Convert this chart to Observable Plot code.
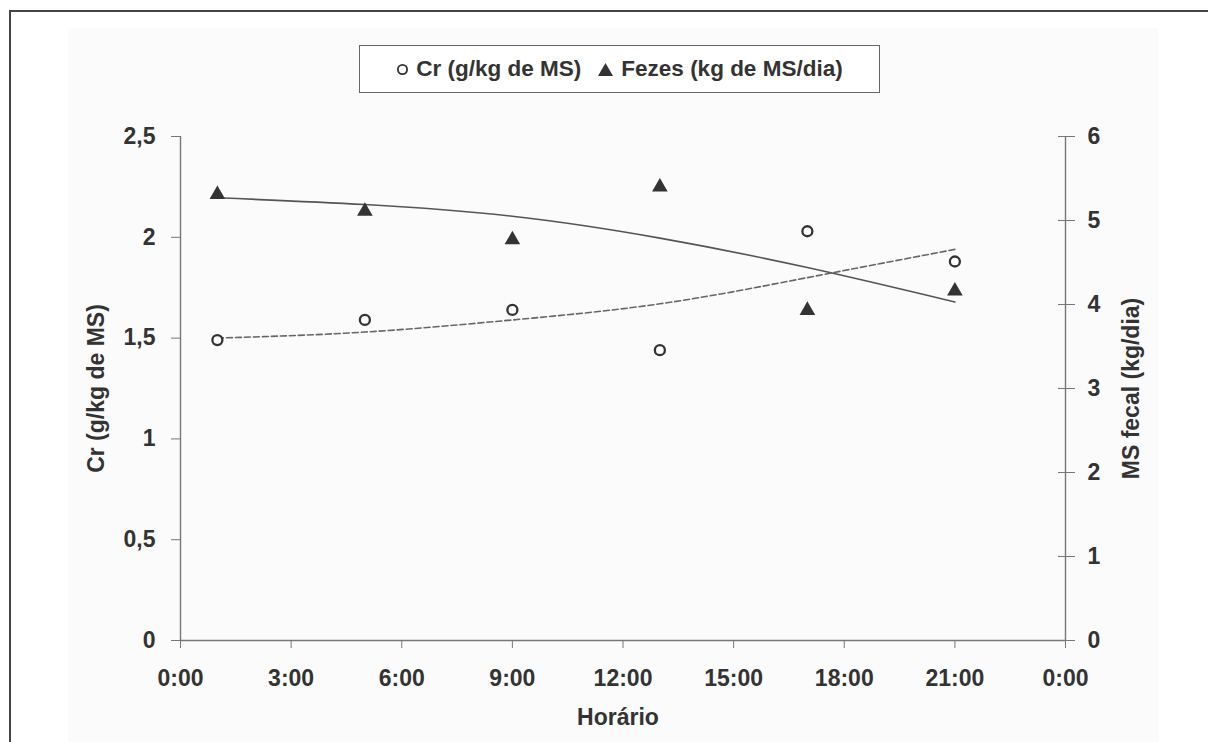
<!DOCTYPE html>
<html>
<head>
<meta charset="utf-8">
<script src="https://cdn.jsdelivr.net/npm/d3@7"></script>
<script src="https://cdn.jsdelivr.net/npm/@observablehq/plot@0.6"></script>
<style>
  html, body { margin: 0; padding: 0; background: #fff; }
  #wrap { position: relative; width: 1208px; height: 742px; overflow: hidden; font-family: "Liberation Sans", Arial, sans-serif; }
  #frame { position: absolute; left: 9px; top: 10px; width: 1300px; height: 800px; border-left: 2px solid #444; border-top: 2px solid #444; }
  #panel { position: absolute; left: 68px; top: 28px; width: 1090px; height: 720px; background: #fbfbfb; }
  #chart { position: absolute; left: 0; top: 0; }
  #legend { position: absolute; left: 359px; top: 45px; width: 519px; height: 46px; border: 1.5px solid #666; background: #fff;
            display: flex; align-items: center; justify-content: center; gap: 16px; font-weight: bold; font-size: 22.5px; color: #333; }
  #legend span { display: inline-flex; align-items: center; gap: 7px; }
</style>
</head>
<body>
<div id="wrap">
  <div id="frame"></div>
  <div id="panel"></div>
  <div id="chart"></div>
  <div id="legend"></div>
</div>
<script>
// ---- data ----
const hours = [1, 5, 9, 13, 17, 21];
const crValues = [1.49, 1.59, 1.64, 1.44, 2.03, 1.88];          // Cr (g/kg de MS), left axis
const fezesValues = [5.31, 5.11, 4.77, 5.40, 3.93, 4.16];        // Fezes (kg de MS/dia), right axis
const crTrend = [1.50, 1.53, 1.59, 1.67, 1.80, 1.94];            // dashed trend line
const fezesTrend = [5.27, 5.19, 5.05, 4.79, 4.44, 4.03];         // solid trend line

const xTicks = [0, 3, 6, 9, 12, 15, 18, 21, 24];
const xTickLabels = ["0:00", "3:00", "6:00", "9:00", "12:00", "15:00", "18:00", "21:00", "0:00"];
const leftTicks = [0, 0.5, 1, 1.5, 2, 2.5];
const leftTickLabels = ["0", "0,5", "1", "1,5", "2", "2,5"];
const rightTicks = [0, 1, 2, 3, 4, 5, 6];
const rightTickLabels = ["0", "1", "2", "3", "4", "5", "6"];

const leftMax = 2.5, rightMax = 6;
const toLeft = v => v * leftMax / rightMax;

const crRows = hours.map((h, i) => ({h, v: crValues[i]}));
const fezesRows = hours.map((h, i) => ({h, v: toLeft(fezesValues[i])}));
const crTrendRows = hours.map((h, i) => ({h, v: crTrend[i]}));
const fezesTrendRows = hours.map((h, i) => ({h, v: toLeft(fezesTrend[i])}));

const ink = "#333";
const axisInk = "#777";
const fs = 23;

const chart = Plot.plot({
  width: 1208,
  height: 742,
  marginLeft: 180,
  marginRight: 143,
  marginTop: 136,
  marginBottom: 102,
  x: {domain: [0, 24]},
  y: {domain: [0, leftMax]},
  style: {fontFamily: "'Liberation Sans', Arial, sans-serif", fontWeight: "bold", fontSize: fs + "px", color: ink, background: "transparent", overflow: "visible"},
  marks: [
    // axis lines
    Plot.ruleX([0], {stroke: axisInk, strokeWidth: 1.4}),
    Plot.ruleX([24], {stroke: axisInk, strokeWidth: 1.4}),
    Plot.ruleY([0], {stroke: axisInk, strokeWidth: 1.4}),
    // left axis
    Plot.axisY(leftTicks, {anchor: "left", tickSize: 9, tickPadding: 16, stroke: axisInk, fill: ink, fontSize: fs,
      tickFormat: d => leftTickLabels[leftTicks.indexOf(d)], label: null}),
    // right axis (crossing ticks)
    Plot.axisY(rightTicks.map(toLeft), {anchor: "right", tickSize: 17, dx: -8, tickPadding: 13, stroke: axisInk, fill: ink, fontSize: fs,
      tickFormat: d => rightTickLabels[rightTicks.map(toLeft).indexOf(d)], label: null}),
    // bottom axis
    Plot.axisX(xTicks, {anchor: "bottom", tickSize: 8, tickPadding: 21, stroke: axisInk, fill: ink, fontSize: fs,
      tickFormat: d => xTickLabels[xTicks.indexOf(d)], label: null}),
    // axis titles
    Plot.text(["Horário"], {frameAnchor: "bottom", dy: 84, dx: -5, fill: ink, fontSize: fs}),
    Plot.text(["Cr (g/kg de MS)"], {frameAnchor: "left", rotate: -90, textAnchor: "middle", dx: -84, fill: ink, fontSize: fs}),
    Plot.text(["MS fecal (kg/dia)"], {frameAnchor: "right", rotate: -90, textAnchor: "middle", dx: 66, fill: ink, fontSize: fs}),
    // trend lines
    Plot.line(fezesTrendRows, {x: "h", y: "v", curve: "natural", stroke: "#555", strokeWidth: 1.6}),
    Plot.line(crTrendRows, {x: "h", y: "v", curve: "natural", stroke: "#666", strokeWidth: 1.6, strokeDasharray: "6,3"}),
    // points
    Plot.dot(fezesRows, {x: "h", y: "v", symbol: "triangle", r: 5.8, fill: ink, stroke: "none"}),
    Plot.dot(crRows, {x: "h", y: "v", symbol: "circle", r: 5, fill: "#fff", stroke: ink, strokeWidth: 2.3})
  ]
});
document.getElementById("chart").appendChild(chart);

// legend
const legend = document.getElementById("legend");
const seriesNames = ["Cr (g/kg de MS)", "Fezes (kg de MS/dia)"];
const sym = [
  `<svg width="13" height="13"><circle cx="6.5" cy="6.5" r="4.6" fill="#fff" stroke="${ink}" stroke-width="1.8"/></svg>`,
  `<svg width="17" height="15"><path d="M8.5,1 L16,14 L1,14 Z" fill="${ink}"/></svg>`
];
seriesNames.forEach((n, i) => {
  const s = document.createElement("span");
  s.innerHTML = sym[i] + "<b>" + n + "</b>";
  legend.appendChild(s);
});
</script>
</body>
</html>
